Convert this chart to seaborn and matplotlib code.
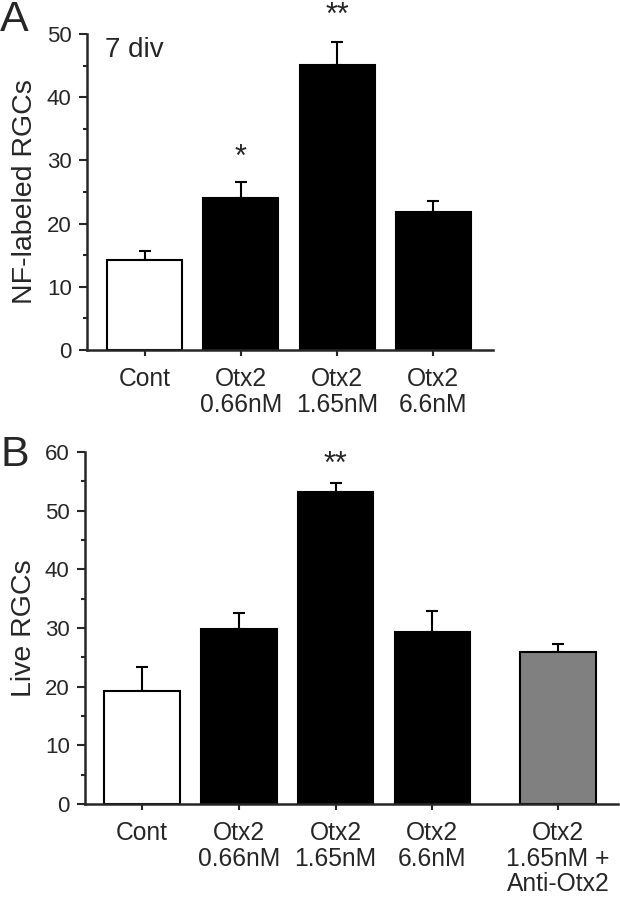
import numpy as np
import pandas as pd
import matplotlib
matplotlib.use("Agg")
import matplotlib.pyplot as plt
from matplotlib.ticker import MultipleLocator
import seaborn as sns

sns.set_style("ticks")
plt.rcParams['font.family'] = ['Liberation Sans', 'DejaVu Sans']

# ---- data ----
labels_a = ["Cont", "Otx2\n0.66nM", "Otx2\n1.65nM", "Otx2\n6.6nM"]
values_a = [14.2, 24.0, 45.1, 21.9]
errors_a = [1.4, 2.6, 3.7, 1.6]
groups_a = ["ctrl", "otx", "otx", "otx"]
stars_a = ["", "*", "**", ""]

labels_b = ["Cont", "Otx2\n0.66nM", "Otx2\n1.65nM", "Otx2\n6.6nM", "Otx2\n1.65nM +\nAnti-Otx2"]
values_b = [19.3, 29.8, 53.2, 29.4, 25.9]
errors_b = [4.1, 2.8, 1.5, 3.5, 1.3]
groups_b = ["ctrl", "otx", "otx", "otx", "anti"]
stars_b = ["", "", "**", "", ""]

# ---- layout / style ----
pos_a = [0, 1, 2, 3]
pos_b = [0, 1, 2, 3, 4.3]
palette = {"ctrl": "white", "otx": "black", "anti": "#808080"}

fig = plt.figure(figsize=(6.2, 8.99), dpi=100)
ax_a = fig.add_axes([0.1403, 0.6107, 0.6548, 0.3515])
ax_b = fig.add_axes([0.1371, 0.1057, 0.8597, 0.3915])


def draw(ax, pos, labels, values, errors, groups, stars, ymax, xlim, ylabel, star_y):
    df = pd.DataFrame({"pos": pos, "val": values, "grp": groups})
    sns.barplot(data=df, x="pos", y="val", hue="grp", palette=palette,
                native_scale=True, width=0.78, edgecolor="black", linewidth=1.5,
                legend=False, ax=ax, errorbar=None, zorder=2)
    ax.errorbar(pos, values, yerr=[np.zeros(len(values)), errors], fmt="none",
                ecolor="black", elinewidth=1.5, capsize=4, capthick=1.5, zorder=1)
    for p, s, yv in zip(pos, stars, star_y):
        if s:
            ax.text(p, yv, s, ha="center", va="center", fontsize=22, clip_on=False,
                    zorder=5)
    ax.set_xlim(*xlim)
    ax.set_ylim(0, ymax)
    ax.set_xticks(pos)
    ax.set_xticklabels(labels, fontsize=17.7, linespacing=1.07)
    ax.yaxis.set_major_locator(MultipleLocator(10))
    ax.yaxis.set_minor_locator(MultipleLocator(5))
    ax.tick_params(axis="y", which="major", length=6, width=1.5, labelsize=16, pad=5)
    ax.tick_params(axis="y", which="minor", length=3, width=1.5)
    ax.tick_params(axis="x", length=4, width=1.5, pad=8.5)
    ax.set_xlabel("")
    ax.set_ylabel(ylabel, fontsize=20.5, labelpad=6)
    for sp in ["top", "right"]:
        ax.spines[sp].set_visible(False)
    for sp in ["left", "bottom"]:
        ax.spines[sp].set_linewidth(1.8)


draw(ax_a, pos_a, labels_a, values_a, errors_a, groups_a, stars_a, 50, (-0.6, 3.62),
     "NF-labeled RGCs", [0, 30.4, 52.8, 0])
draw(ax_b, pos_b, labels_b, values_b, errors_b, groups_b, stars_b, 60, (-0.59, 4.92),
     "Live RGCs", [0, 0, 57.8, 0, 0])

ax_a.text(0.045, 0.99, "7 div", transform=ax_a.transAxes, fontsize=20, ha="left", va="top")

fig.text(0.0, 1.0, "A", fontsize=31, ha="left", va="top")
fig.text(0.0, 0.516, "B", fontsize=31, ha="left", va="top")

fig.savefig("out.png", dpi=100)
